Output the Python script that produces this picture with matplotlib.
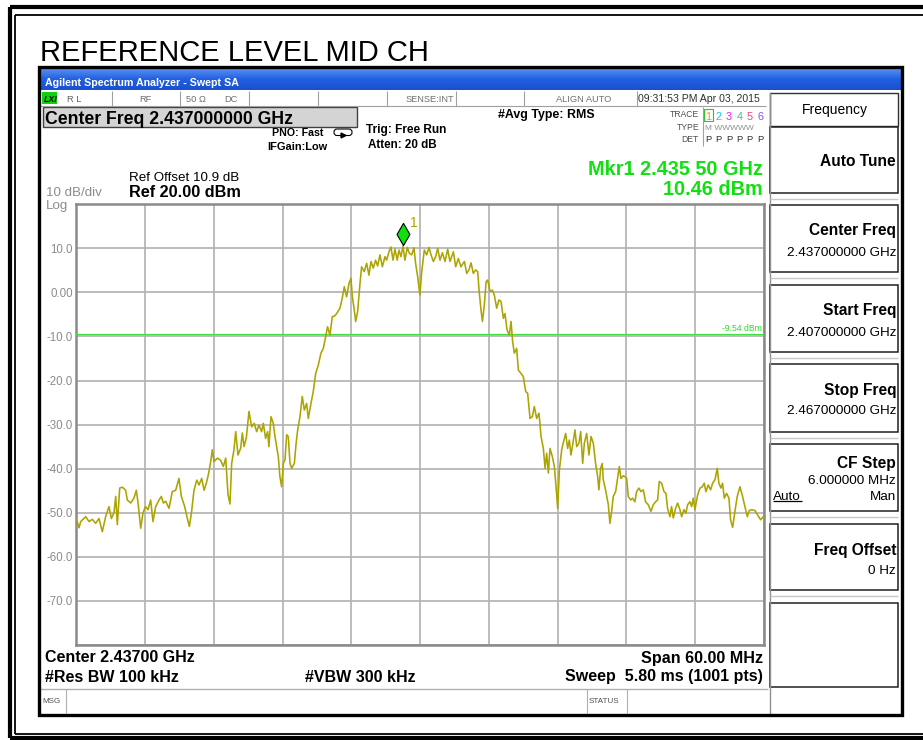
"""
Spectrum analyser screenshot: reference level, mid channel (2.437 GHz).
"""

import numpy as np
import matplotlib
matplotlib.use("Agg")
import matplotlib.pyplot as plt
from matplotlib.patches import Rectangle, FancyBboxPatch
from matplotlib.colors import LinearSegmentedColormap
from matplotlib import transforms

plt.rcParams["font.family"] = ["Liberation Sans", "DejaVu Sans"]

W, H = 923, 740          # output size in px (dpi 100)

# ── analyser settings ────────────────────────────────────────────────────────
SPAN_MHZ     = 60.0       # 2.407 .. 2.467 GHz, x axis is MHz from start
REF_LEVEL    = 20.0
BOTTOM_LEVEL = -80.0
DISPLAY_LINE = -9.54
MKR_FREQ     = 28.5       # MHz from start -> 2.435 50 GHz
MKR_LEVEL    = 10.46

y_levels = [20, 10, 0, -10, -20, -30, -40, -50, -60, -70, -80]
y_labels = ["", "10.0", "0.00", "-10.0", "-20.0", "-30.0", "-40.0", "-50.0", "-60.0", "-70.0", ""]

# ── trace 1 ──────────────────────────────────────────────────────────────────
trace_freq = [
    0.03, 0.24, 0.38, 0.82, 1.11, 1.40, 1.69, 1.98, 2.27, 2.56, 2.85, 3.06, 3.29, 3.44, 3.58, 3.79,
    4.02, 4.31, 4.45, 4.75, 5.04, 5.24, 5.39, 5.62, 5.82, 6.05, 6.26, 6.49, 6.69, 6.93, 7.22, 7.42,
    7.60, 7.80, 8.09, 8.38, 8.67, 8.96, 9.17, 9.46, 9.69, 9.87, 10.07, 10.27, 10.51, 10.71, 10.94,
    11.15, 11.35, 11.52, 11.73, 11.87, 12.02, 12.31, 12.60, 12.83, 13.04, 13.24, 13.41, 13.56, 13.76,
    13.91, 14.11, 14.35, 14.49, 14.64, 14.84, 15.07, 15.30, 15.53, 15.74, 15.94, 16.17, 16.32, 16.52,
    16.70, 16.81, 16.99, 17.19, 17.34, 17.63, 17.77, 17.92, 18.07, 18.21, 18.36, 18.50, 18.65, 18.79,
    19.03, 19.17, 19.32, 19.52, 19.72, 19.90, 20.10, 20.25, 20.48, 20.68, 20.89, 21.12, 21.35, 21.56,
    21.76, 21.93, 22.14, 22.34, 22.52, 22.72, 23.01, 23.21, 23.39, 23.59, 23.80, 23.97, 24.09, 24.26,
    24.38, 24.55, 24.76, 24.90, 25.13, 25.34, 25.54, 25.72, 25.92, 26.12, 26.30, 26.50, 26.71, 26.94,
    27.08, 27.29, 27.46, 27.64, 27.81, 28.01, 28.16, 28.33, 28.51, 28.68, 28.89, 29.06, 29.27, 29.47,
    29.61, 29.79, 29.99, 30.14, 30.37, 30.58, 30.78, 30.96, 31.16, 31.36, 31.54, 31.74, 31.95, 32.18,
    32.41, 32.61, 32.91, 33.11, 33.34, 33.57, 33.87, 34.07, 34.27, 34.45, 34.65, 34.85, 35.03, 35.15,
    35.32, 35.44, 35.61, 35.76, 35.90, 36.11, 36.31, 36.48, 36.69, 36.89, 37.07, 37.27, 37.41, 37.59,
    37.79, 37.94, 38.08, 38.23, 38.43, 38.58, 38.81, 39.01, 39.22, 39.39, 39.60, 39.80, 39.97, 40.18,
    40.38, 40.56, 40.76, 40.91, 41.05, 41.20, 41.34, 41.55, 41.72, 41.87, 42.01, 42.16, 42.36, 42.56,
    42.71, 42.88, 43.03, 43.17, 43.32, 43.52, 43.67, 43.87, 44.02, 44.19, 44.34, 44.54, 44.74, 44.92,
    45.12, 45.32, 45.50, 45.61, 45.76, 45.90, 45.99, 46.19, 46.43, 46.57, 46.72, 46.86, 47.07, 47.24,
    47.39, 47.53, 47.74, 47.88, 48.03, 48.17, 48.38, 48.55, 48.75, 48.90, 49.10, 49.28, 49.48, 49.68,
    49.92, 50.15, 50.35, 50.56, 50.73, 50.88, 51.08, 51.29, 51.46, 51.60, 51.81, 51.95, 52.10, 52.30,
    52.48, 52.68, 52.83, 53.03, 53.20, 53.35, 53.55, 53.70, 53.84, 53.99, 54.22, 54.43, 54.63, 54.80,
    54.95, 55.15, 55.36, 55.53, 55.74, 55.94, 56.08, 56.26, 56.40, 56.55, 56.75, 56.96, 57.10, 57.28,
    57.48, 57.68, 57.92, 58.12, 58.35, 58.56, 58.73, 58.94, 59.23, 59.46, 59.72, 59.95,
]
trace_dbm = [
    -51.6, -53.4, -52.0, -50.9, -52.0, -51.5, -52.4, -51.3, -54.3, -50.9, -48.6, -51.3, -50.0, -46.3, -52.7, -44.4,
    -44.2, -44.9, -47.1, -47.8, -46.6, -44.9, -47.8, -53.5, -50.0, -48.6, -49.3, -47.1, -52.0, -48.6, -47.1, -46.3,
    -47.8, -47.4, -49.0, -45.2, -44.9, -42.2, -46.3, -48.6, -51.3, -53.1, -49.6, -44.9, -42.6, -43.7, -42.2,
    -44.9, -43.3, -41.4, -38.4, -35.7, -38.4, -37.6, -38.1, -39.5, -37.6, -45.9, -48.0, -38.8, -35.7,
    -31.6, -36.9, -35.3, -31.9, -35.0, -33.0, -27.0, -30.5, -29.7, -31.6, -30.1, -31.6, -29.7, -33.1,
    -31.6, -35.0, -28.2, -29.7, -32.7, -37.3, -41.8, -44.1, -38.8, -38.0, -32.3, -32.7, -38.8, -39.9,
    -38.8, -34.6, -31.2, -28.2, -23.6, -26.7, -25.2, -28.6, -25.2, -22.5, -18.4, -16.5, -13.8, -12.7,
    -10.0, -7.8, -9.7, -5.5, -5.4, -4.8, -3.6, -1.3, 1.3, -1.0, 2.05, 3.2, -1.0, -4.0,
    -6.6, -4.4, 2.05, 5.8, 4.7, 6.6, 3.9, 7.0, 5.5, 7.3, 6.0, 8.5, 5.8, 8.1,
    7.3, 9.2, 10.3, 7.3, 9.8, 7.3, 9.6, 8.1, 10.46, 7.3, 10.2, 8.9, 8.5, 10.1,
    6.6, 3.6, -0.6, 4.5, 9.6, 8.5, 10.2, 8.5, 7.0, 8.1, 10.0, 7.3, 9.0, 7.0,
    9.8, 7.0, 9.2, 5.8, 7.7, 5.8, 7.0, 4.3, 5.1, 6.7, 4.3, 5.1, 4.7, 0.5,
    -4.0, -6.6, -2.9, 2.4, 2.8, 0.2, 0.5, -0.6, -3.6, -1.7, -2.1, -5.9, -4.8, -8.5,
    -9.7, -6.6, -11.2, -13.8, -12.7, -17.6, -18.4, -19.1, -22.5, -22.9, -28.6, -28.2, -25.9, -28.6,
    -27.4, -32.7, -35.4, -39.9, -36.5, -41.0, -35.4, -37.3, -39.5, -44.1, -49.0, -40.3, -35.7, -33.5,
    -32.0, -35.4, -33.5, -36.9, -34.6, -31.2, -35.0, -34.2, -31.6, -38.8, -34.2, -32.0, -36.9, -32.7,
    -34.2, -38.8, -41.8, -44.8, -39.9, -38.8, -42.5, -44.8, -48.2, -52.4, -49.7, -46.3, -45.2, -42.2,
    -39.5, -42.2, -41.6, -41.8, -42.2, -46.3, -47.1, -46.7, -47.5, -45.2, -44.4, -45.2, -44.8, -47.5,
    -48.2, -49.7, -48.2, -47.5, -47.1, -42.9, -43.3, -45.2, -45.6, -49.0, -50.9, -48.6, -51.2, -49.0,
    -47.8, -49.3, -50.9, -49.3, -50.1, -48.2, -47.5, -48.6, -46.7, -49.3, -46.0, -44.4, -44.1, -43.3,
    -45.2, -43.7, -44.8, -43.3, -42.5, -39.9, -43.3, -44.4, -43.3, -46.7, -45.6, -46.7, -51.6, -53.3,
    -49.7, -46.3, -44.1, -46.0, -48.6, -50.9, -49.5, -49.3, -49.5, -50.5, -51.6, -50.9,
]

# ── screen texts ─────────────────────────────────────────────────────────────
softkey_titles = ["Auto Tune", "Center Freq", "Start Freq", "Stop Freq", "CF Step", "Freq Offset"]
softkey_values = ["", "2.437000000 GHz", "2.407000000 GHz", "2.467000000 GHz", "6.000000 MHz", "0 Hz"]
trace_numbers  = ["1", "2", "3", "4", "5", "6"]
trace_colors   = ["#f0a000", "#10c8f0", "#f020f0", "#30d080", "#ff3c78", "#8a50ff"]


fig = plt.figure(figsize=(W / 100, H / 100), dpi=100)

# background canvas in pixel coordinates
bg = fig.add_axes([0, 0, 1, 1])
bg.set_xlim(0, W)
bg.set_ylim(H, 0)
bg.axis("off")


def box(x0, y0, x1, y1, **kw):
    bg.add_patch(Rectangle((x0, y0), x1 - x0, y1 - y0, **kw))


def line(xs, ys, **kw):
    bg.plot(xs, ys, solid_capstyle="butt", **kw)


def txt(x, y, s, size, ha="left", weight="normal", color="black", **kw):
    bg.text(x, y, s, fontsize=size, ha=ha, va="center_baseline",
            fontweight=weight, color=color, **kw)


# ── outer frame ──────────────────────────────────────────────────────────────
line([9.5, W], [7, 7], color="black", lw=3)
line([9.5, 9.5], [7, 738], color="black", lw=3)
line([9.5, W], [738, 738], color="black", lw=3)
line([15, W], [15, 15], color="black", lw=1.3)
line([15, 15], [15, 733.5], color="black", lw=1.3)
line([15, W], [733.5, 733.5], color="black", lw=1.3)

txt(40, 50, "REFERENCE LEVEL MID CH", 21)

# ── title bar ────────────────────────────────────────────────────────────────
blue = LinearSegmentedColormap.from_list("bar", ["#5b90f4", "#2160e0", "#1a50d0"])
bg.imshow(np.linspace(0, 1, 30).reshape(-1, 1), cmap=blue, aspect="auto",
          extent=(40, 901, 90, 68), origin="upper", zorder=1)
bg.set_xlim(0, W)
bg.set_ylim(H, 0)
txt(45, 81.5, "Agilent Spectrum Analyzer - Swept SA", 7.7, weight="bold", color="white", zorder=3)

# status row
box(40, 90, 766, 106, fc="white", ec="none", zorder=1)
line([40, 766], [106, 106], color="#a0a0a0", lw=0.8)
for sx in [111.5, 180, 248.5, 318, 386.5, 456, 524, 637]:
    line([sx, sx], [91, 105.5], color="#a0a0a0", lw=0.8)
box(42, 92, 57, 104, fc="#10d010", ec="none", zorder=2)
txt(43.5, 98.5, "LXI", 6.3, weight="bold", style="italic", zorder=3)
txt(67, 98.5, "R L", 6.7, color="#606060")
txt(145, 98.5, "RF", 6.7, ha="center", color="#707070")
txt(186, 98.5, "50 Ω", 6.7, color="#707070")
txt(224, 98.5, "DC", 6.7, color="#707070")
txt(454, 98.5, "SENSE:INT", 6.7, ha="right", color="#707070")
txt(584, 98.5, "ALIGN AUTO", 6.7, ha="center", color="#707070")
txt(638.5, 98.5, "09:31:53 PM Apr 03, 2015", 7.6, color="#303030")

# ── header area ──────────────────────────────────────────────────────────────
box(42.5, 107, 357, 127, fc="#d4d4d4", ec="#404040", lw=1.0)
txt(45, 117.5, "Center Freq 2.437000000 GHz", 12.7, weight="bold")
txt(272, 132.5, "PNO: Fast", 7.7, weight="bold")
txt(267, 145.5, "IFGain:Low", 7.9, weight="bold")
bg.add_patch(FancyBboxPatch((334, 129), 18, 6.5, boxstyle="round,pad=0,rounding_size=3",
                            fc="white", ec="black", lw=0.8))
bg.plot([343], [134.5], marker=">", ms=3.5, color="black")
txt(366, 128.5, "Trig: Free Run", 8.6, weight="bold")
txt(368, 143, "Atten: 20 dB", 8.4, weight="bold")
txt(498, 113.5, "#Avg Type: RMS", 8.9, weight="bold")

# trace table
txt(699, 113.5, "TRACE", 6.2, ha="right", color="#505050")
txt(699, 126.5, "TYPE", 6.2, ha="right", color="#505050")
txt(699, 139, "DET", 6.2, ha="right", color="#505050")
line([703, 703], [107, 146], color="#a0a0a0", lw=0.8)
box(704, 108.5, 713, 121, fc="none", ec="#30c030", lw=0.8)
for i, (num, col) in enumerate(zip(trace_numbers, trace_colors)):
    tx = 708.5 + i * 10.3
    txt(tx, 115.5, num, 7.8, ha="center", color=col)
    txt(tx, 139, "P", 6.8, ha="center", color="#303030")
txt(705, 127, "M WWWWW", 6.0, color="#909090")

txt(129, 176.5, "Ref Offset 10.9 dB", 9.6)
txt(129, 191, "Ref 20.00 dBm", 11.7, weight="bold")
txt(46, 191.5, "10 dB/div", 9.6, color="#8c8c8c")
txt(46, 204, "Log", 9.6, color="#8c8c8c")

txt(763, 167.5, "Mkr1 2.435 50 GHz", 14.3, ha="right", weight="bold", color="#10e010")
txt(763, 187.5, "10.46 dBm", 14.3, ha="right", weight="bold", color="#10e010")

# ── bottom annotations ───────────────────────────────────────────────────────
txt(45, 656.5, "Center 2.43700 GHz", 11.5, weight="bold")
txt(763, 656.5, "Span 60.00 MHz", 11.6, ha="right", weight="bold")
txt(45, 675.5, "#Res BW 100 kHz", 11.5, weight="bold")
txt(305, 675.5, "#VBW 300 kHz", 11.5, weight="bold")
txt(763, 675.5, "Sweep  5.80 ms (1001 pts)", 11.5, ha="right", weight="bold")

line([40, 768], [688.5, 688.5], color="#b0b0b0", lw=1.0)
for sx in [66, 587, 627]:
    line([sx, sx], [689, 713], color="#b0b0b0", lw=0.8)
txt(42, 700.5, "MSG", 5.8, color="#505050")
txt(589, 700.5, "STATUS", 5.8, color="#505050")

# ── softkey panel ────────────────────────────────────────────────────────────
line([769.5, 769.5], [92, 714], color="#909090", lw=1.0)
box(769.5, 93, 898, 126, fc="white", ec="#303030", lw=1.0)
txt(835, 108.5, "Frequency", 10, ha="center")
key_tops = [127, 205, 285, 364, 444, 524]
key_bots = [193, 272, 352, 432, 511, 590]
for top, bot, title, val in zip(key_tops, key_bots, softkey_titles, softkey_values):
    box(769.5, top, 898, bot, fc="white", ec="#202020", lw=1.1)
    line([770, 898], [bot + 6, bot + 6], color="#c8c8c8", lw=1.0)
    if title == "CF Step":
        # CF Step carries an Auto / Man toggle, so its value sits higher
        txt(896, top + 18, title, 11.2, ha="right", weight="bold")
        txt(896, top + 35.5, val, 9.7, ha="right")
        txt(773, top + 51, "Auto", 9.7)
        line([773, 802], [top + 57, top + 57], color="black", lw=0.9)
        txt(896, top + 51, "Man", 9.7, ha="right")
    elif val:
        txt(896, top + 24.5, title, 11.2, ha="right", weight="bold")
        txt(896, top + 46, val, 9.7, ha="right")
    else:
        txt(896, top + 33, title, 11.2, ha="right", weight="bold")
box(769.5, 603, 898, 687, fc="white", ec="#202020", lw=1.1)

# screen border
box(39, 67, 901.5, 715, fc="none", ec="black", lw=2.4, zorder=4)

# ── graticule + trace ────────────────────────────────────────────────────────
ax = fig.add_axes([76.3 / W, 1 - 645 / H, 687.5 / W, 440.8 / H])
ax.set_xlim(0, SPAN_MHZ)
ax.set_ylim(BOTTOM_LEVEL, REF_LEVEL)
ax.set_facecolor("white")
ax.set_xticks(np.arange(0, SPAN_MHZ + 1, 6))
ax.set_xticklabels([])
ax.set_yticks(y_levels)
ax.set_yticklabels(y_labels, fontsize=8.3, color="#8c8c8c")
ax.tick_params(length=0, pad=2.5)
ax.grid(True, color="#b0b0b0", lw=1.2)
for sp in ax.spines.values():
    sp.set_color("#8a8a8a")
    sp.set_linewidth(1.8)

ax.axhline(DISPLAY_LINE, color="#40e040", lw=0.9, zorder=3)
ax.annotate("-9.54 dBm", xy=(0.997, DISPLAY_LINE), xycoords=("axes fraction", "data"),
            xytext=(0, 1.5), textcoords="offset pixels", ha="right", va="bottom",
            fontsize=6.2, color="#30d830")

ax.plot(trace_freq, trace_dbm, color="#aca400", lw=1.15, zorder=4)

# marker 1: diamond sitting on top of the peak
raised = transforms.offset_copy(ax.transData, fig=fig, x=0, y=12, units="dots")
diamond = [(0, -1), (0.58, 0), (0, 1), (-0.58, 0), (0, -1)]
ax.plot([MKR_FREQ], [MKR_LEVEL], marker=diamond, ms=16, mfc="#10e010", mec="black",
        mew=0.8, transform=raised, zorder=5, clip_on=False)
ax.annotate("1", xy=(MKR_FREQ, MKR_LEVEL), xytext=(11, 23), textcoords="offset pixels",
            ha="center", va="center", fontsize=10, color="#aca400", zorder=5)

fig.savefig("out.png", dpi=100)
